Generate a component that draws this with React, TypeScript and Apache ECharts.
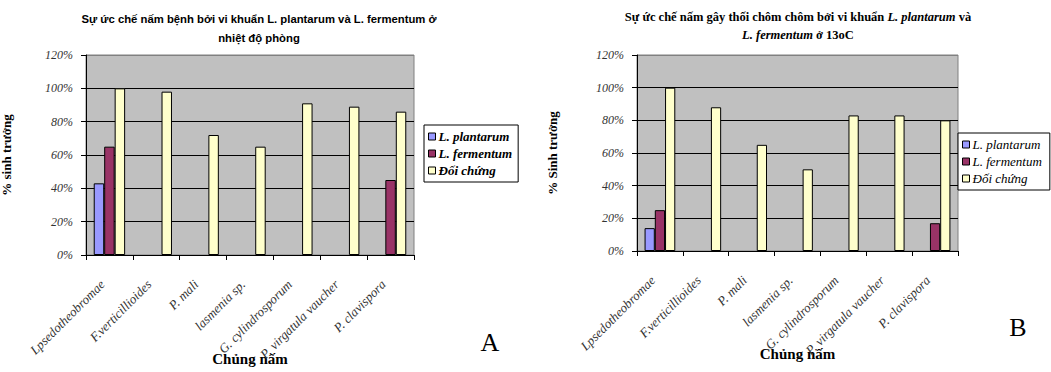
import React, { useEffect, useRef } from "react";
import * as echarts from "echarts";

const categories = [
  "Lpsedotheobromae",
  "F.verticillioides",
  "P. mali",
  "lasmenia sp.",
  "G. cylindrosporum",
  "P. virgatula vaucher",
  "P. clavispora",
];
const seriesNames = ["L. plantarum", "L. fermentum", "Đối chứng"];
const plantarumA = [43, null, null, null, null, null, null];
const fermentumA = [65, null, null, null, null, null, 45];
const controlA = [100, 98, 72, 65, 91, 89, 86];
const plantarumB = [14, null, null, null, null, null, null];
const fermentumB = [25, null, null, null, null, null, 17];
const controlB = [100, 88, 65, 50, 83, 83, 80];
const yTicks = [0, 20, 40, 60, 80, 100, 120];

const colors = ["#9999ff", "#993366", "#ffffcc"];
const serif = '"Liberation Serif", "Times New Roman", serif';
const sans = '"Liberation Sans", Arial, sans-serif';

export default function App() {
  const ref = useRef<HTMLDivElement>(null);
  useEffect(() => {
    if (!ref.current) return;
    const chart = echarts.init(ref.current, undefined, { renderer: "svg" });
    const gridCommon = {
      show: true,
      backgroundColor: "#c0c0c0",
      borderColor: "#808080",
      borderWidth: 1,
      containLabel: false,
      outerBoundsMode: "none",
    };
    const xAxisBase = (gridIndex: number, gap: number) => ({
      type: "category",
      gridIndex,
      data: categories,
      name: "Chủng nấm",
      nameLocation: "middle",
      nameGap: gap,
      nameMoveOverlap: false,
      nameTextStyle: { fontFamily: serif, fontWeight: "bold", fontSize: 15, color: "#000" },
      axisLine: { lineStyle: { color: "#000", width: 1 } },
      axisTick: { show: true, length: 5, lineStyle: { color: "#000" } },
      axisLabel: {
        rotate: 45,
        interval: 0,
        margin: 20,
        padding: [0, 10, 0, 0],
        fontFamily: serif,
        fontStyle: "italic",
        fontSize: 13,
        color: "#333",
      },
      splitLine: { show: false },
    });
    const yAxisBase = (gridIndex: number, name: string, gap: number) => ({
      type: "value",
      gridIndex,
      min: 0,
      max: 120,
      interval: 20,
      name,
      nameLocation: "middle",
      nameGap: gap,
      nameMoveOverlap: false,
      nameTextStyle: { fontFamily: serif, fontWeight: "bold", fontSize: 13, color: "#000" },
      axisLine: { show: true, lineStyle: { color: "#000", width: 1 } },
      axisTick: { show: true, length: 5, lineStyle: { color: "#000" } },
      axisLabel: {
        margin: 13,
        fontFamily: serif,
        fontStyle: "italic",
        fontSize: 12,
        color: "#333",
        formatter: (v: number) => `${v}%`,
      },
      splitLine: {
        show: true,
        lineStyle: {
          color: yTicks.map((t) => (t === 120 ? "#808080" : "#000")),
          width: 1,
        },
      },
    });
    const mk = (name: string, data: (number | null)[], idx: number, c: number) => ({
      name,
      type: "bar",
      xAxisIndex: idx,
      yAxisIndex: idx,
      data,
      barGap: "0%",
      barCategoryGap: "33%",
      itemStyle: { color: colors[c], borderColor: "#000", borderWidth: 1 },
    });
    const legendBase = {
      orient: "vertical",
      icon: "rect",
      itemWidth: 7,
      itemHeight: 7,
      itemGap: 4,
      backgroundColor: "#fff",
      borderColor: "#000",
      borderWidth: 1,
      selectedMode: false,
      data: seriesNames,
      itemStyle: { borderColor: "#000", borderWidth: 1 },
    };
    chart.setOption({
      animation: false,
      grid: [
        { ...gridCommon, left: 86, right: 1051 - 414, top: 55, bottom: 372 - 255 },
        { ...gridCommon, left: 637, right: 1051 - 958, top: 55, bottom: 372 - 251 },
      ],
      xAxis: [xAxisBase(0, 96), xAxisBase(1, 95)],
      yAxis: [yAxisBase(0, "% sinh trưởng", 73), yAxisBase(1, "% Sinh trưởng", 78)],
      legend: [
        {
          ...legendBase,
          left: 424,
          top: 125,
          padding: [5, 6, 5, 4],
          itemGap: 4,
          textStyle: { fontFamily: serif, fontStyle: "italic", fontWeight: "bold", fontSize: 13, color: "#000", padding: [0, 0, 0, -2] },
        },
        {
          ...legendBase,
          left: 958,
          top: 133,
          padding: [5, 8, 5, 4],
          itemGap: 4,
          textStyle: { fontFamily: serif, fontStyle: "italic", fontSize: 13, color: "#000", padding: [0, 0, 0, -2] },
        },
      ],
      series: [
        mk(seriesNames[0], plantarumA, 0, 0),
        mk(seriesNames[1], fermentumA, 0, 1),
        mk(seriesNames[2], controlA, 0, 2),
        mk(seriesNames[0], plantarumB, 1, 0),
        mk(seriesNames[1], fermentumB, 1, 1),
        mk(seriesNames[2], controlB, 1, 2),
      ],
      graphic: [
        {
          type: "text",
          x: 259,
          y: 9,
          style: {
            text: "Sự ức chế nấm bệnh bởi vi khuẩn L. plantarum và L. fermentum ở\nnhiệt độ phòng",
            font: `bold 11.3px ${sans}`,
            fill: "#000",
            textAlign: "center",
            textVerticalAlign: "top",
            lineHeight: 19,
          },
        },
        {
          type: "text",
          x: 798,
          y: 8,
          style: {
            text: "{b|Sự ức chế nấm gây thối chôm chôm bởi vi khuẩn }{i|L. plantarum}{b| và}\n{i|L. fermentum}{b| ở 13oC}",
            textAlign: "center",
            textVerticalAlign: "top",
            fill: "#000",
            rich: {
              b: { fontFamily: serif, fontWeight: "bold", fontSize: 12.5, lineHeight: 18 },
              i: { fontFamily: serif, fontWeight: "bold", fontStyle: "italic", fontSize: 12.5, lineHeight: 18 },
            },
          },
        },
        {
          type: "text",
          x: 490,
          y: 342,
          style: {
            text: "A",
            font: `26px ${serif}`,
            fill: "#000",
            textAlign: "center",
            textVerticalAlign: "middle",
          },
        },
        {
          type: "text",
          x: 1018,
          y: 327,
          style: {
            text: "B",
            font: `26px ${serif}`,
            fill: "#000",
            textAlign: "center",
            textVerticalAlign: "middle",
          },
        },
      ],
    });
    return () => chart.dispose();
  }, []);
  return (
    <div
      ref={ref}
      style={{ position: "fixed", left: 0, top: 0, width: 1051, height: 372, background: "#fff" }}
    />
  );
}
